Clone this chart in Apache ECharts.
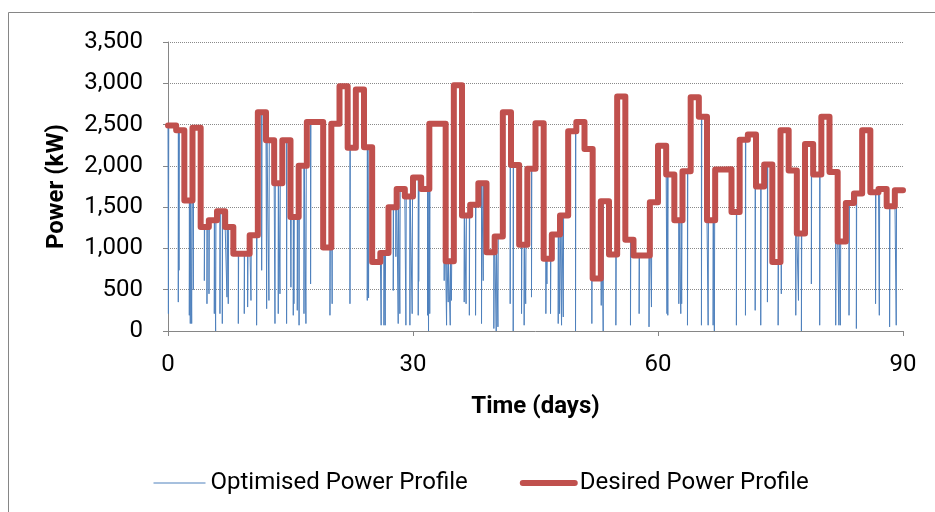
<!DOCTYPE html>
<html>
<head>
<meta charset="utf-8">
<script src="https://cdn.jsdelivr.net/npm/echarts@6/dist/echarts.min.js"></script>
<style>
  html, body { margin: 0; padding: 0; background: #fff; }
  #chart { width: 935px; height: 512px; }
</style>
</head>
<body>
<div id="chart"></div>
<script>
// desired power (kW), one value per day, day 0 .. 89
const desiredPower = [
  2490, 2430, 1580, 2460, 1260, 1340, 1450, 1260, 935, 935,
  1160, 2650, 2310, 1790, 2310, 1380, 2000, 2530, 2530, 1010,
  2510, 2965, 2220, 2925, 2225, 835, 945, 1500, 1720, 1630,
  1860, 1720, 2510, 2510, 845, 2975, 1400, 1530, 1790, 955,
  1145, 2650, 2010, 1045, 1965, 2515, 875, 1170, 1400, 2420,
  2530, 2205, 635, 1570, 925, 2840, 1105, 915, 915, 1560,
  2245, 1895, 1340, 1935, 2830, 2595, 1340, 1955, 1960, 1440,
  2315, 2380, 1750, 2015, 835, 2430, 1945, 1180, 2265, 1895,
  2595, 1925, 1085, 1550, 1665, 2430, 1680, 1720, 1510, 1705
]

// short drops of the optimised profile: when (day) and how low (kW)
const dropDays = [
  0.05, 1.26, 1.35, 2.61, 2.73, 2.9, 3.1, 4.45, 4.77, 5.02, 5.67, 5.83, 6.36, 6.65, 7.22, 7.38,
  8.61, 9.34, 9.75, 10.16, 10.85, 11.47, 12.08, 12.36, 13.1, 13.5, 13.71, 14.52,
  15.05, 15.34, 15.42, 15.83, 16.05, 16.65, 16.89, 17.46, 19.83, 20.1, 22.28, 24.4, 24.56,
  26.1, 26.44, 26.6, 27.58, 27.9, 28.19, 28.39, 29.13, 29.62, 29.9,
  30.64, 30.7, 31.78, 31.9, 32.05, 33.82, 34.11, 34.31, 34.56, 34.7, 36.27, 36.5, 36.9, 37.66, 38.39, 38.6,
  39.9, 40.19, 40.4, 41.9, 42.27, 43.29, 43.61, 43.8, 44.51,
  46.27, 46.4, 46.84, 47.78, 47.95, 48.19, 48.4, 49.9, 51.9, 53.05, 53.29, 54.84, 56.63, 57.69, 58.9, 59.2,
  61.1, 61.2, 62.55, 62.79, 62.9, 63.61, 65.32, 66.14, 66.75, 66.9, 69.6, 70.71, 71.9, 72.58, 73.4,
  74.71, 75.1,
  76.87, 77.2, 77.56, 78.78, 79.8, 81.76, 82.15, 82.33, 83.39, 84.29, 86.64, 87.1, 88.36, 89.17
]
const dropLows = [
  210, 350, 735, 190, 90, 90, 500, 610, 330, 450, 210, 0, 210, 90, 410, 330,
  90, 210, 290, 370, 70, 735, 270, 370, 90, 210, 450, 90,
  530, 190, 330, 250, 70, 210, 90, 570, 190, 330, 330, 370, 400,
  70, 70, 70, 490, 900, 90, 210, 70, 70, 210,
  190, 600, 190, 0, 210, 610, 70, 350, 70, 370, 350, 330, 190, 190, 90, 610,
  30, 0, 50, 330, 0, 210, 70, 330, 410,
  210, 570, 210, 90, 210, 70, 170, 0, 90, 310, 0, 70, 70, 210, 50, 290,
  210, 190, 330, 210, 330, 70, 70, 70, 70, 0, 70, 190, 250, 70, 350,
  70, 450,
  190, 370, 0, 570, 70, 70, 70, 70, 190, 30, 330, 190, 50, 70
]

const yTicks = [0, 500, 1000, 1500, 2000, 2500, 3000, 3500]
const xTicks = [0, 30, 60, 90]

const desiredSeries = desiredPower.map((v, d) => [d, v])
desiredSeries.push([90, desiredPower[desiredPower.length - 1]])

const optimisedSeries = desiredPower.map((v, d) => [d, v])
dropDays.forEach((t, i) => {
  const base = desiredPower[Math.floor(t)]
  optimisedSeries.push([t, dropLows[i]])
  optimisedSeries.push([t + 0.04, base])
})
optimisedSeries.push([90, desiredPower[desiredPower.length - 1]])
optimisedSeries.sort((a, b) => a[0] - b[0])

const FONT = 'Roboto'
const chart = echarts.init(document.getElementById('chart'))

chart.setOption({
  animation: false,
  backgroundColor: '#fff',
  textStyle: { fontFamily: FONT },
  graphic: [{
    type: 'rect',
    shape: { x: 8.5, y: 12.5, width: 940, height: 520 },
    style: { fill: 'none', stroke: '#868686', lineWidth: 1 },
    silent: true
  }],
  grid: { left: 168, right: 32, top: 42, bottom: 181 },
  legend: {
    left: 148,
    top: 466,
    itemWidth: 52,
    itemHeight: 14,
    itemGap: 52,
    textStyle: { fontFamily: FONT, fontSize: 24, color: '#000' },
    data: [
      { name: 'Optimised Power Profile', itemStyle: { opacity: 0 }, lineStyle: { width: 1 } },
      { name: 'Desired Power Profile', itemStyle: { opacity: 0 }, lineStyle: { width: 6 } }
    ]
  },
  xAxis: {
    type: 'value',
    min: xTicks[0],
    max: xTicks[xTicks.length - 1],
    interval: 30,
    name: 'Time (days)',
    nameLocation: 'middle',
    nameGap: 64,
    nameTextStyle: { fontFamily: FONT, fontSize: 24, fontWeight: 'bold', color: '#000' },
    axisLine: { lineStyle: { color: '#868686', width: 1 } },
    axisTick: { show: true, length: 5, lineStyle: { color: '#868686' } },
    axisLabel: { margin: 22, fontSize: 24, color: '#000', fontFamily: FONT },
    splitLine: { show: false }
  },
  yAxis: {
    type: 'value',
    min: yTicks[0],
    max: yTicks[yTicks.length - 1],
    interval: 500,
    name: 'Power (kW)',
    nameLocation: 'middle',
    nameGap: 99,
    nameTextStyle: { fontFamily: FONT, fontSize: 24, fontWeight: 'bold', color: '#000' },
    axisLine: { show: true, lineStyle: { color: '#868686', width: 1 } },
    axisTick: { show: true, length: 5, lineStyle: { color: '#868686' } },
    axisLabel: {
      margin: 25,
      fontSize: 24,
      color: '#000',
      fontFamily: FONT,
      formatter: v => v.toLocaleString('en-US')
    },
    splitLine: { lineStyle: { color: '#8a8a8a', type: [1, 1], width: 1 } }
  },
  series: [
    {
      name: 'Optimised Power Profile',
      type: 'line',
      step: 'end',
      data: optimisedSeries,
      symbol: 'none',
      color: '#4F81BD',
      lineStyle: { width: 1, color: '#4F81BD' },
      z: 2
    },
    {
      name: 'Desired Power Profile',
      type: 'line',
      step: 'end',
      data: desiredSeries,
      symbol: 'none',
      color: '#C0504D',
      lineStyle: { width: 6, color: '#C0504D', join: 'round', cap: 'round' },
      z: 3
    }
  ]
})
</script>
</body>
</html>
